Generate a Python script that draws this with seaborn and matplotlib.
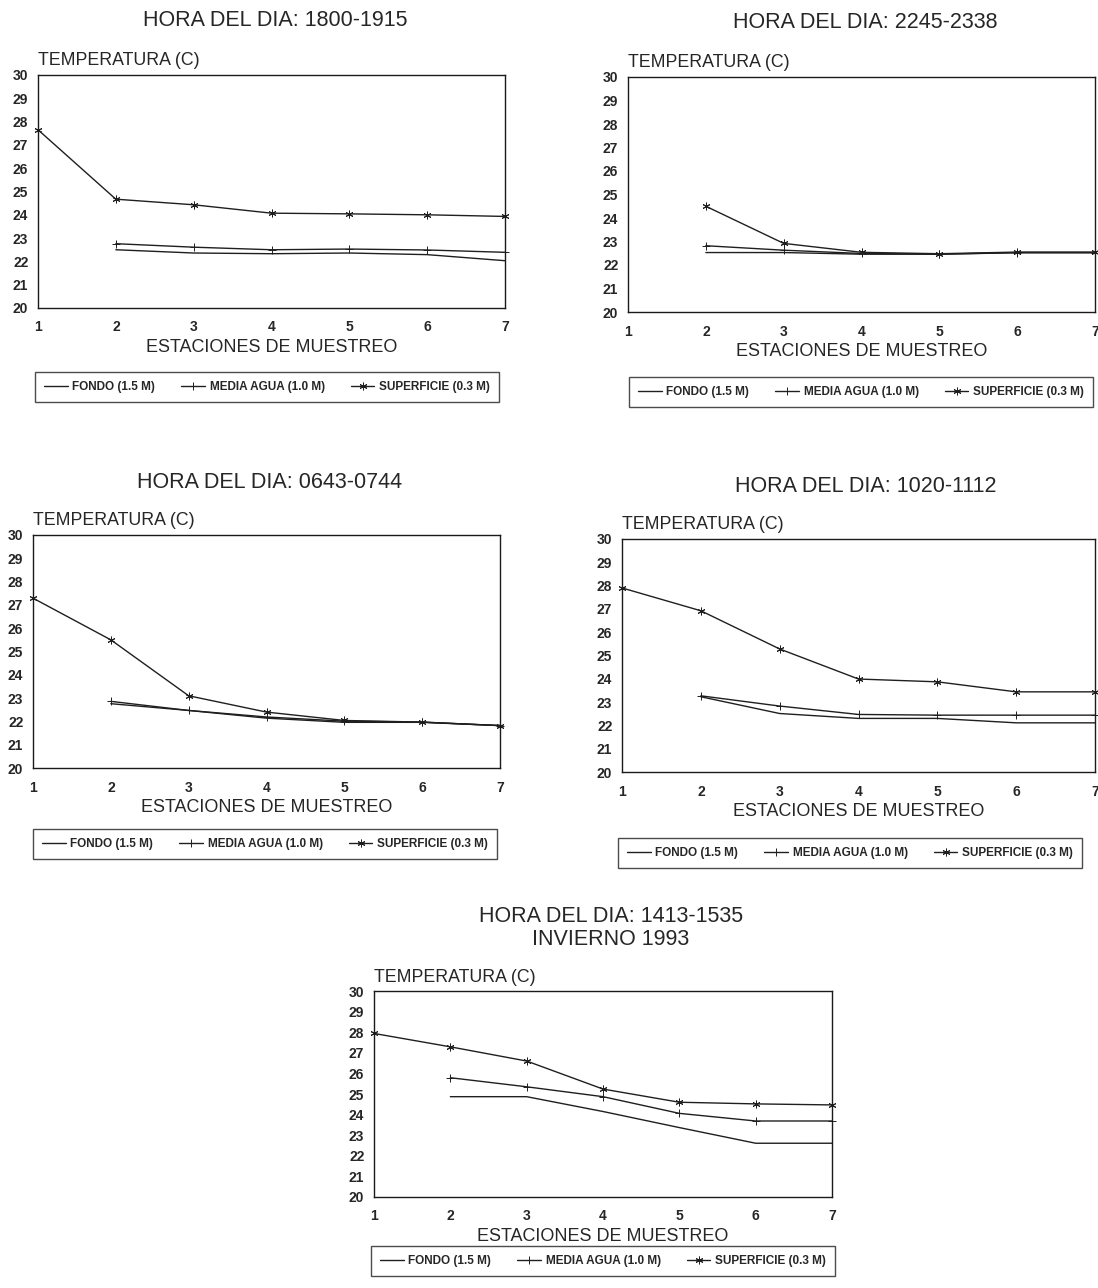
import numpy as np
import pandas as pd
import matplotlib
matplotlib.use("Agg")
import matplotlib.pyplot as plt
import seaborn as sns

estaciones = [1, 2, 3, 4, 5, 6, 7]
temp_ticks = list(range(20, 31))
series = ["FONDO (1.5 M)", "MEDIA AGUA (1.0 M)", "SUPERFICIE (0.3 M)"]

titulos = [
    "HORA DEL DIA: 1800-1915",
    "HORA DEL DIA: 2245-2338",
    "HORA DEL DIA: 0643-0744",
    "HORA DEL DIA: 1020-1112",
    "HORA DEL DIA: 1413-1535\nINVIERNO 1993",
]

nan = np.nan
# temperatura por estacion: fondo, media agua, superficie
fondo_1800 = [nan, 22.50, 22.36, 22.33, 22.36, 22.29, 22.03]
media_1800 = [nan, 22.76, 22.61, 22.50, 22.53, 22.49, 22.39]
sup_1800 = [27.65, 24.67, 24.43, 24.07, 24.04, 24.00, 23.93]

fondo_2245 = [nan, 22.53, 22.53, 22.46, 22.46, 22.52, 22.52]
media_2245 = [nan, 22.82, 22.63, 22.49, 22.46, 22.53, 22.53]
sup_2245 = [nan, 24.50, 22.92, 22.54, 22.48, 22.55, 22.55]

fondo_0643 = [nan, 22.76, 22.47, 22.14, 21.96, 21.96, 21.82]
media_0643 = [nan, 22.86, 22.47, 22.19, 22.01, 21.97, 21.82]
sup_0643 = [27.29, 25.50, 23.10, 22.40, 22.04, 21.97, 21.82]

fondo_1020 = [nan, 23.23, 22.51, 22.30, 22.30, 22.11, 22.11]
media_1020 = [nan, 23.27, 22.83, 22.47, 22.44, 22.44, 22.44]
sup_1020 = [27.90, 26.92, 25.28, 23.99, 23.87, 23.44, 23.44]

fondo_1413 = [nan, 24.87, 24.87, 24.15, 23.37, 22.61, 22.61]
media_1413 = [nan, 25.79, 25.35, 24.87, 24.06, 23.69, 23.69]
sup_1413 = [27.94, 27.29, 26.60, 25.24, 24.60, 24.52, 24.47]

paneles = [
    (fondo_1800, media_1800, sup_1800),
    (fondo_2245, media_2245, sup_2245),
    (fondo_0643, media_0643, sup_0643),
    (fondo_1020, media_1020, sup_1020),
    (fondo_1413, media_1413, sup_1413),
]

W, H = 1098, 1288


def box(l, t, r, b):
    return [l / W, 1 - b / H, (r - l) / W, (b - t) / H]


ejes = [
    box(38, 75, 505, 308),
    box(628, 77, 1095, 312),
    box(33, 535, 500, 768),
    box(622, 539, 1095, 772),
    box(374, 991, 832, 1197),
]
# centro x y borde superior de cada leyenda (px)
leyendas = [(267, 372), (861, 377), (265, 829), (850, 838), (603, 1246)]
pos_titulos = [(275, 20), (865, 22), (270, 483), (866, 487), (611, 928)]

sns.set_style("white")
plt.rcParams["font.family"] = ["Liberation Sans", "DejaVu Sans"]
plt.rcParams["axes.edgecolor"] = "#1a1a1a"

fig = plt.figure(figsize=(W / 100, H / 100), dpi=100)

marcadores = [None, "+", (6, 2, 0)]
tinta = "#1f1f1f"

for i, vals in enumerate(paneles):
    ax = fig.add_axes(ejes[i])
    for nombre, v, m in zip(series, vals, marcadores):
        d = pd.DataFrame({"Estacion": estaciones, "Temperatura": v}).dropna()
        sns.lineplot(data=d, x="Estacion", y="Temperatura", color=tinta,
                     marker=m, markersize=5.5, markeredgewidth=0.7,
                     markeredgecolor=tinta, markerfacecolor=tinta,
                     linewidth=1.0, label=nombre, ax=ax, clip_on=False)
    ax.set_xlim(1, 7)
    ax.set_ylim(20, 30)
    ax.set_xticks(estaciones)
    ax.set_yticks(temp_ticks)
    ax.tick_params(axis="y", direction="out", length=5, width=0.8, pad=2,
                   labelsize=10, color=tinta)
    ax.tick_params(axis="x", direction="inout", length=6, width=0.8, pad=6,
                   labelsize=10, color=tinta)
    for lab in ax.get_xticklabels() + ax.get_yticklabels():
        lab.set_fontweight("bold")
    for s in ax.spines.values():
        s.set_linewidth(1.0)
    ax.set_ylabel("")
    ax.set_xlabel("ESTACIONES DE MUESTREO", fontsize=13, labelpad=3)
    ax.text(0.0, 1.025, "TEMPERATURA (C)", transform=ax.transAxes,
            ha="left", va="bottom", fontsize=12.8)
    cx, top = leyendas[i]
    ax.legend(loc="upper center", bbox_to_anchor=(cx / W, 1 - top / H),
              bbox_transform=fig.transFigure, ncol=3,
              frameon=True, fancybox=False, edgecolor=tinta,
              prop={"weight": "bold", "size": 8.5}, handlelength=2.0,
              handletextpad=0.4, columnspacing=2.2, borderpad=0.75,
              borderaxespad=0)
    tx, ty = pos_titulos[i]
    fig.text(tx / W, 1 - ty / H, titulos[i], ha="center", va="center",
             fontsize=15.5, linespacing=1.1)

fig.savefig("out.png", dpi=100, facecolor="white")
